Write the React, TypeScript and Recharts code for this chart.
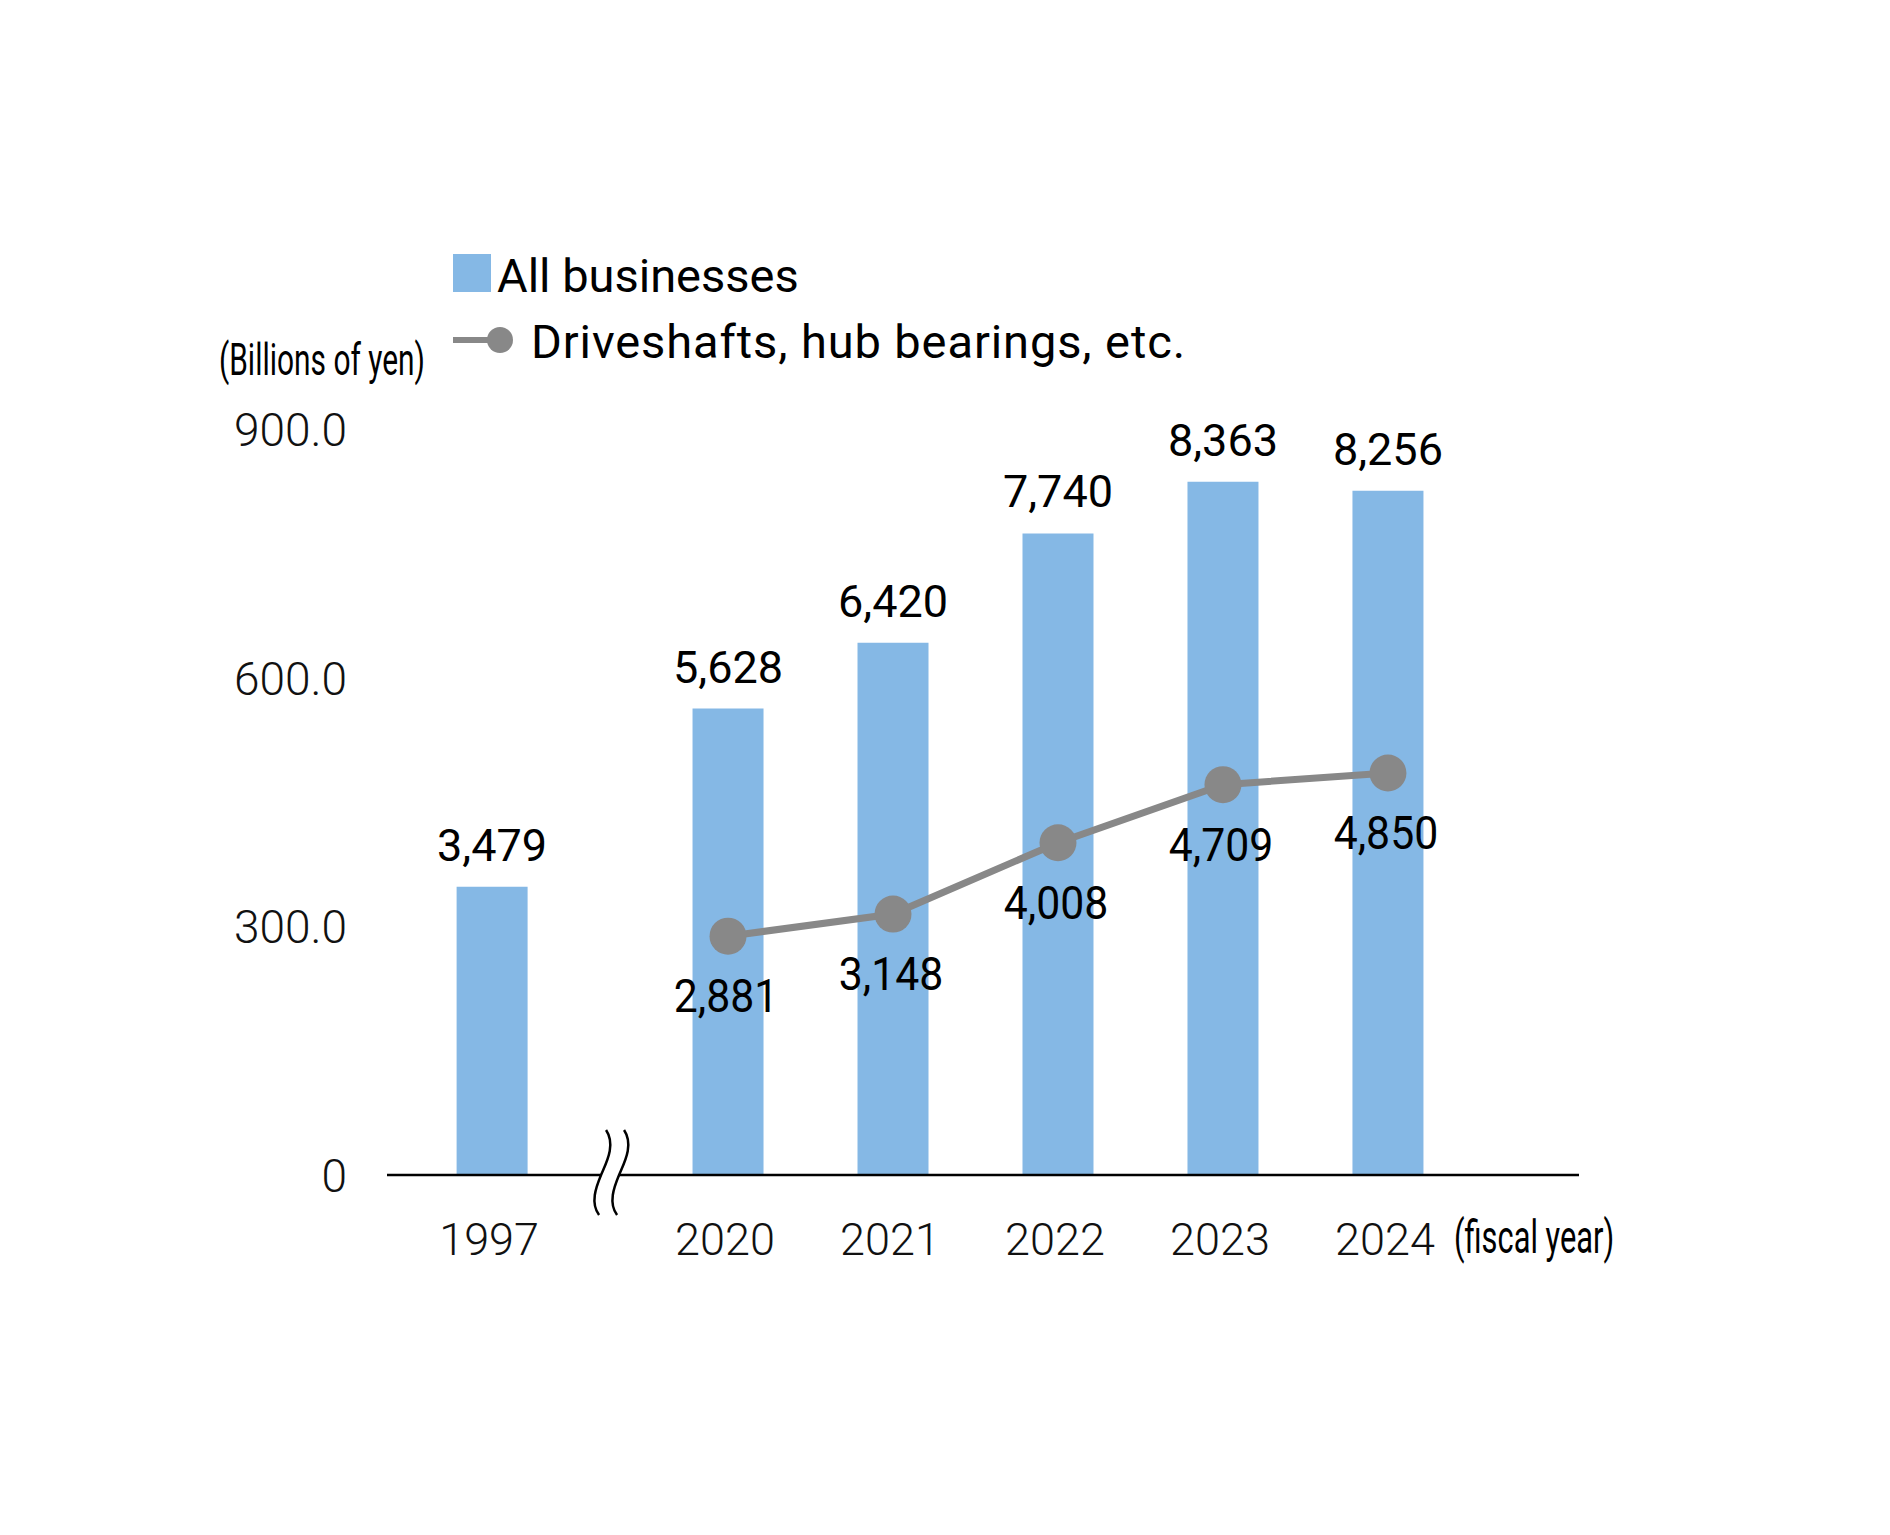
import {
  Bar,
  ComposedChart,
  LabelList,
  Legend,
  Line,
  ReferenceDot,
  XAxis,
  YAxis,
} from "recharts";

const years = [1997, 2020, 2021, 2022, 2023, 2024];
// billions of yen
const allBusinesses = [347.9, 562.8, 642.0, 774.0, 836.3, 825.6];
const driveshafts: (number | null)[] = [null, 288.1, 314.8, 400.8, 470.9, 485.0];
const yTicks = [0, 300, 600, 900];

// broken x axis: 1997 sits a little further left than one year step
const FIRST_RECENT = 2020;
const BREAK_GAP = 1.43;
const axisPos = (year: number) => (year >= FIRST_RECENT ? year - FIRST_RECENT : -BREAK_GAP);

const data = years.map((year, i) => ({
  pos: axisPos(year),
  year: String(year),
  all: allBusinesses[i],
  drive: driveshafts[i],
}));
const xTicks = data.map((d) => d.pos);
const breakPos = (axisPos(1997) + axisPos(FIRST_RECENT)) / 2;

const FONT = "Roboto, 'Liberation Sans', Arial, sans-serif";
const BAR_COLOR = "#85B8E5";
const LINE_COLOR = "#888888";

// labels are shown in 100 million yen
const fmt = (v: any) => (v == null ? "" : Math.round(Number(v) * 10).toLocaleString("en-US"));
const yearAt = (pos: number) => data.find((d) => Math.abs(d.pos - pos) < 1e-6)?.year ?? "";

const YTick = (p: any) => {
  const v = p.payload.value;
  return (
    <text x={p.x - 40} y={p.y + 17} textAnchor="end" fontSize={46} fontWeight={300} fontFamily={FONT} fill="#111">
      {v === 0 ? "0" : v.toFixed(1)}
    </text>
  );
};

const XTick = (p: any) => (
  <text x={p.x - 3} y={p.y + 80} textAnchor="middle" fontSize={45} fontWeight={300} fontFamily={FONT} fill="#111">
    {yearAt(p.payload.value)}
  </text>
);

const DriveLabel = (p: any) => {
  if (p.value == null) return null;
  const x = p.x ?? p.viewBox?.x;
  const y = p.y ?? p.viewBox?.y;
  return (
    <text
      transform={`translate(${x - 2},${y + 76}) scale(0.93,1)`}
      textAnchor="middle"
      fontSize={46}
      fontFamily={FONT}
      fill="#000"
    >
      {fmt(p.value)}
    </text>
  );
};

const BreakMark = (p: any) => {
  const { cx, cy } = p;
  const left = "M -4,-45 C 6,-30 -4,-12 -9,0 C -14,12 -20,28 -11,40";
  const right = "M 14,-45 C 24,-30 14,-12 9,0 C 4,12 -2,28 7,40";
  const fill =
    "M -4,-45 C 6,-30 -4,-12 -9,0 C -14,12 -20,28 -11,40 L 7,40 C -2,28 4,12 9,0 C 14,-12 24,-30 14,-45 Z";
  return (
    <g transform={`translate(${cx},${cy})`}>
      <path d={fill} fill="#fff" />
      <path d={left} fill="none" stroke="#000" strokeWidth={2.5} />
      <path d={right} fill="none" stroke="#000" strokeWidth={2.5} />
    </g>
  );
};

const LegendBox = () => (
  <svg width={1000} height={400} style={{ display: "block", overflow: "visible" }}>
    <rect x={445} y={246} width={38} height={38} fill={BAR_COLOR} />
    <text x={489} y={284} fontSize={47} fontFamily={FONT} fill="#000">
      All businesses
    </text>
    <line x1={445} x2={486} y1={332} y2={332} stroke={LINE_COLOR} strokeWidth={6} />
    <circle cx={492} cy={332} r={13} fill={LINE_COLOR} />
    <text x={523} y={350} fontSize={47} letterSpacing={0.9} fontFamily={FONT} fill="#000">
      Driveshafts, hub bearings, etc.
    </text>
  </svg>
);

export default function App() {
  return (
    <div style={{ width: 1874, height: 1500, position: "relative" }}>
      <ComposedChart
        width={1874}
        height={1500}
        data={data}
        margin={{ top: 421, right: 303, bottom: 233, left: 0 }}
      >
        <Legend
          layout="vertical"
          align="center"
          verticalAlign="middle"
          content={() => <LegendBox />}
          wrapperStyle={{ left: 0, top: 0, width: "auto", height: "auto" }}
        />
        <XAxis
          dataKey="pos"
          type="number"
          domain={[-2.067, 5.158]}
          ticks={xTicks}
          tick={<XTick />}
          tickLine={false}
          tickSize={0}
          tickMargin={0}
          height={100}
          axisLine={{ stroke: "#000", strokeWidth: 2.5 }}
          interval={0}
          label={{
            content: (p: any) => {
              const vb = p.viewBox;
              return (
                <text
                  transform={`translate(${vb.x + vb.width - 125},${vb.y + 78}) scale(0.67,1)`}
                  fontSize={46}
                  fontFamily={FONT}
                  fill="#000"
                >
                  (fiscal year)
                </text>
              );
            },
          }}
        />
        <YAxis
          domain={[0, 900]}
          ticks={yTicks}
          width={379}
          axisLine={false}
          tickLine={false}
          tickSize={0}
          tickMargin={0}
          tick={<YTick />}
          interval={0}
          label={{
            content: (p: any) => {
              const vb = p.viewBox;
              return (
                <text
                  transform={`translate(${vb.x + vb.width - 168},${vb.y - 54}) scale(0.68,1)`}
                  fontSize={44}
                  fontFamily={FONT}
                  fill="#000"
                >
                  (Billions of yen)
                </text>
              );
            },
          }}
        />
        <Bar dataKey="all" fill={BAR_COLOR} barSize={71} isAnimationActive={false}>
          <LabelList
            dataKey="all"
            position="top"
            offset={26}
            formatter={fmt}
            fontSize={45}
            fontFamily={FONT}
            fill="#000"
          />
        </Bar>
        <Line
          dataKey="drive"
          stroke={LINE_COLOR}
          strokeWidth={7}
          dot={{ r: 18.5, fill: LINE_COLOR, stroke: "none" }}
          activeDot={false}
          isAnimationActive={false}
        >
          <LabelList dataKey="drive" content={<DriveLabel />} />
        </Line>
        <ReferenceDot x={breakPos} y={0} r={0} ifOverflow="visible" shape={<BreakMark />} />
      </ComposedChart>
    </div>
  );
}
